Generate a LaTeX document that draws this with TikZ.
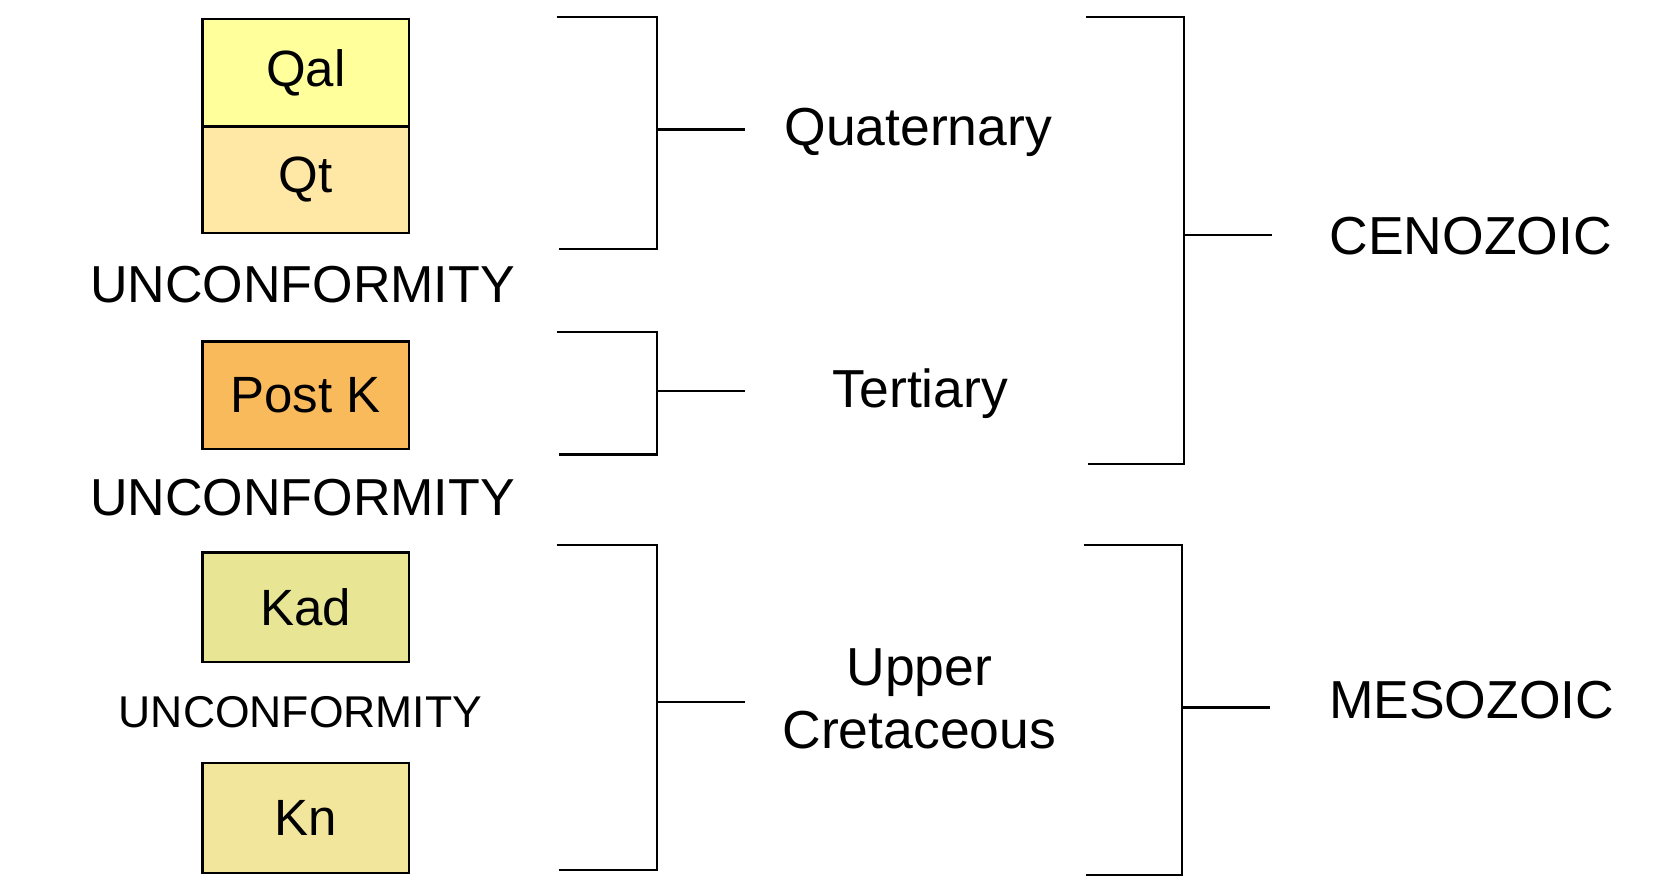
\documentclass[tikz,border=0pt]{standalone}
\usepackage{fontspec}
\setmainfont{Liberation Sans}
\begin{document}
\begin{tikzpicture}[x=1.0542pt,y=-1.0542pt,
  unit/.style={draw=black,line width=2.4pt,minimum width=196\unitlength,
    inner sep=0pt,font=\fontsize{51}{60}\selectfont,text=black},
  brk/.style={draw=black,line width=2.4pt},
  biglabel/.style={font=\fontsize{53.5}{63}\selectfont,align=center,inner sep=0pt},
  gaplabel/.style={font=\fontsize{52}{60}\selectfont,inner sep=0pt},
  thinlabel/.style={font=\fontsize{44.5}{50}\selectfont,inner sep=0pt}]
\setlength{\unitlength}{1.0542pt}
\useasboundingbox (0,0) rectangle (1568,842);
\fill[white] (0,0) rectangle (1568,842);

\definecolor{qalcol}{HTML}{FFFF9C}
\definecolor{qtcol}{HTML}{FFE8A6}
\definecolor{postkcol}{HTML}{F9BA5C}
\definecolor{kadcol}{HTML}{E8E694}
\definecolor{kncol}{HTML}{F2E69C}

% stratigraphic units
\node[unit,fill=qalcol,minimum height=102\unitlength] (qal) at (290,69) {Qal};
\node[unit,fill=qtcol,minimum height=101\unitlength] (qt) at (290,170.5) {Qt};
\node[unit,fill=postkcol,minimum height=102\unitlength] (postk) at (290,375) {Post K};
\node[unit,fill=kadcol,minimum height=104\unitlength] (kad) at (290,576) {Kad};
\node[unit,fill=kncol,minimum height=104\unitlength] (kn) at (290,776) {Kn};

% unconformities
\node[gaplabel] (unc1) at (287,270) {UNCONFORMITY};
\node[gaplabel] (unc2) at (287,472) {UNCONFORMITY};
\node[thinlabel] (unc3) at (285,676) {UNCONFORMITY};

% period and era labels
\node[biglabel] (quat) at (871,126) {Quaternary};
\node[biglabel] (tert) at (873,373) {Tertiary};
\node[biglabel] (ucret) at (872,663) {Upper\\Cretaceous};
\node[biglabel] (ceno) at (1395,224) {CENOZOIC};
\node[biglabel] (meso) at (1396,664) {MESOZOIC};

% period brackets
\coordinate (q1) at (528,16);  \coordinate (q2) at (530,236);
\coordinate (qm) at (623,123); \coordinate (qe) at (707,123);
\draw[brk] (q1) -| (qm) |- (q2);
\draw[brk] (qm) -- (qe);

\coordinate (t1) at (528,315); \coordinate (t2) at (530,431);
\coordinate (tm) at (623,371); \coordinate (te) at (707,371);
\draw[brk] (t1) -| (tm) |- (t2);
\draw[brk] (tm) -- (te);

\coordinate (u1) at (528,517); \coordinate (u2) at (530,825);
\coordinate (um) at (623,666); \coordinate (ue) at (707,666);
\draw[brk] (u1) -| (um) |- (u2);
\draw[brk] (um) -- (ue);

% era brackets
\coordinate (c1) at (1030,16);  \coordinate (c2) at (1032,440);
\coordinate (cm) at (1123,223); \coordinate (ce) at (1207,223);
\draw[brk] (c1) -| (cm) |- (c2);
\draw[brk] (cm) -- (ce);

\coordinate (m1) at (1028,517); \coordinate (m2) at (1030,830);
\coordinate (mm) at (1121,671); \coordinate (me) at (1205,671);
\draw[brk] (m1) -| (mm) |- (m2);
\draw[brk] (mm) -- (me);
\end{tikzpicture}
\end{document}
